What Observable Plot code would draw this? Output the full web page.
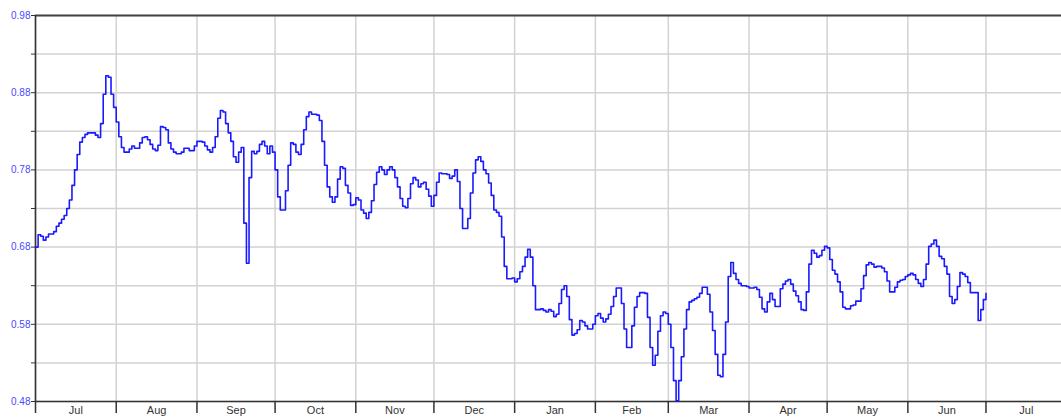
<!DOCTYPE html>
<html>
<head>
<meta charset="utf-8">
<script src="https://cdn.jsdelivr.net/npm/d3@7"></script>
<script src="https://cdn.jsdelivr.net/npm/@observablehq/plot@0.6"></script>
<style>
  html, body { margin: 0; padding: 0; background: #fff; }
  #chart svg { display: block; }
</style>
</head>
<body>
<div id="chart"></div>
<script>
// Series start date; each reading is (days after start, value)
const seriesStart = "2018-07-01";
const days = [
  0,1,2,3,4,5,7,8,9,10,11,12,13,14,15,16,17,18,19,20,23,24,25,26,27,28,29,30,31,32,33,34,36,37,38,40,41,42,43,44,45,46,47,48,49,50,51,52,53,54,56,57,59,61,62,64,65,66,67,68,69,70,71,72,73,74,75,76,77,78,79,80,81,82,83,84,85,86,87,88,89,90,91,92,93,94,96,97,98,99,100,101,102,103,104,105,106,108,109,110,111,112,113,114,115,116,117,118,119,120,121,122,123,124,125,126,127,128,129,130,131,132,133,134,135,136,137,138,139,140,141,142,143,144,145,146,147,148,149,150,151,152,153,154,155,156,158,159,160,161,162,163,164,166,167,168,169,170,171,172,173,174,175,176,177,178,179,180,181,183,184,185,186,187,188,189,190,191,192,194,195,196,197,198,199,200,201,202,203,204,205,206,207,208,209,210,211,212,214,215,216,217,218,219,220,221,222,223,225,226,227,229,230,231,232,234,235,236,237,238,239,240,241,242,243,244,245,246,247,248,249,250,251,252,253,254,255,256,258,259,260,261,262,263,264,265,266,267,268,269,270,271,273,274,276,277,278,279,280,281,282,283,284,286,287,288,289,290,291,292,293,294,295,296,297,298,299,300,301,302,303,304,305,306,307,308,309,310,311,313,314,315,317,318,319,320,321,322,323,325,326,327,328,330,331,332,333,334,335,336,337,338,339,340,341,342,343,344,345,346,347,348,349,350,351,352,353,354,355,356,357,358,359,362,363,364,365
];
const values = [
  0.680,0.696,0.694,0.689,0.693,0.697,0.700,0.707,0.711,0.716,0.721,0.730,0.741,0.760,0.780,0.800,0.816,0.822,0.826,0.828,0.825,0.822,0.840,0.878,0.902,0.900,0.878,0.861,0.842,0.823,0.809,0.803,0.807,0.811,0.808,0.815,0.822,0.823,0.819,0.813,0.807,0.805,0.812,0.836,0.835,0.832,0.815,0.807,0.803,0.801,0.803,0.808,0.805,0.811,0.817,0.816,0.811,0.806,0.803,0.809,0.823,0.847,0.857,0.855,0.840,0.828,0.817,0.797,0.790,0.803,0.809,0.711,0.659,0.770,0.804,0.801,0.804,0.813,0.817,0.811,0.801,0.811,0.803,0.780,0.745,0.728,0.753,0.786,0.815,0.813,0.803,0.800,0.813,0.832,0.849,0.855,0.852,0.851,0.844,0.817,0.786,0.758,0.745,0.738,0.745,0.768,0.784,0.782,0.760,0.750,0.734,0.735,0.744,0.741,0.728,0.724,0.717,0.725,0.740,0.761,0.777,0.784,0.780,0.774,0.780,0.784,0.780,0.770,0.758,0.743,0.733,0.731,0.743,0.762,0.770,0.767,0.758,0.762,0.764,0.755,0.746,0.733,0.747,0.764,0.776,0.775,0.774,0.769,0.772,0.780,0.765,0.730,0.704,0.717,0.750,0.776,0.793,0.797,0.791,0.780,0.775,0.763,0.747,0.728,0.725,0.720,0.693,0.655,0.639,0.640,0.635,0.639,0.648,0.655,0.667,0.677,0.667,0.630,0.599,0.600,0.598,0.596,0.599,0.597,0.590,0.593,0.607,0.625,0.630,0.616,0.586,0.566,0.568,0.573,0.585,0.583,0.578,0.574,0.580,0.591,0.594,0.588,0.583,0.587,0.593,0.603,0.616,0.627,0.607,0.574,0.550,0.578,0.602,0.616,0.621,0.620,0.589,0.550,0.527,0.540,0.571,0.591,0.596,0.594,0.580,0.550,0.507,0.481,0.507,0.538,0.574,0.599,0.609,0.611,0.613,0.615,0.620,0.628,0.619,0.596,0.572,0.541,0.514,0.512,0.541,0.583,0.642,0.660,0.646,0.638,0.633,0.630,0.629,0.627,0.628,0.625,0.615,0.600,0.596,0.609,0.620,0.612,0.603,0.626,0.632,0.636,0.638,0.632,0.623,0.617,0.609,0.599,0.598,0.622,0.658,0.676,0.672,0.667,0.669,0.676,0.681,0.679,0.664,0.650,0.645,0.635,0.622,0.602,0.600,0.604,0.605,0.610,0.626,0.643,0.657,0.660,0.658,0.654,0.655,0.653,0.648,0.636,0.622,0.628,0.635,0.637,0.638,0.642,0.644,0.646,0.644,0.638,0.633,0.629,0.638,0.658,0.681,0.684,0.689,0.681,0.668,0.665,0.655,0.645,0.616,0.607,0.612,0.629,0.647,0.645,0.642,0.634,0.621,0.585,0.599,0.612,0.620,0.620
];
const yMajorTicks = [0.48, 0.58, 0.68, 0.78, 0.88, 0.98];
const yAllTicks = [0.48, 0.53, 0.58, 0.63, 0.68, 0.73, 0.78, 0.83, 0.88, 0.93, 0.98];
const xDomain = ["2018-07-01", "2019-07-30"];
const monthTickRange = ["2018-07-01", "2019-08-01"];

const start = new Date(seriesStart + "T00:00:00Z");
const data = days.map((d, i) => ({date: d3.utcDay.offset(start, d), value: values[i]}));

const monthStarts = d3.utcMonth.range(new Date(monthTickRange[0] + "T00:00:00Z"), new Date(monthTickRange[1] + "T00:00:00Z"));
const monthMids = monthStarts.map(m => new Date((+m + +d3.utcMonth.offset(m, 1)) / 2));

const chart = Plot.plot({
  width: 1061,
  height: 418,
  marginTop: 15,
  marginBottom: 17,
  marginLeft: 35,
  marginRight: 0,
  style: {fontFamily: "'Liberation Sans', Arial, sans-serif", fontSize: "11px", background: "#fff"},
  x: {type: "utc", domain: xDomain.map(s => new Date(s + "T00:00:00Z")), label: null},
  y: {domain: [0.48, 0.98], label: null},
  marks: [
    Plot.gridX(monthStarts, {stroke: "#d2d2d2", strokeOpacity: 1, strokeWidth: 1.5}),
    Plot.gridY(yAllTicks, {stroke: "#d2d2d2", strokeOpacity: 1, strokeWidth: 1.5}),
    Plot.axisY({ticks: yAllTicks, tickSize: 4, tickFormat: () => "", color: "#333", label: null}),
    Plot.axisY({ticks: yMajorTicks, tickSize: 0, tickPadding: 5, tickFormat: d3.format(".2f"), color: "#4a4aff", fontSize: 10, label: null}),
    Plot.axisX({ticks: monthStarts, tickSize: 12, tickFormat: () => "", color: "#333", strokeWidth: 1.5, label: null}),
    Plot.axisX({ticks: monthMids, tickSize: 0, tickPadding: 5, tickFormat: d3.utcFormat("%b"), color: "#333", fontSize: 11, label: null}),
    Plot.ruleY([0.48], {stroke: "#333", strokeWidth: 1.6}),
    Plot.ruleY([0.98], {stroke: "#444", strokeWidth: 2}),
    Plot.ruleX([xDomain[0]].map(s => new Date(s + "T00:00:00Z")), {stroke: "#333", strokeWidth: 1.6}),
    Plot.line(data, {x: "date", y: "value", curve: "step-after", stroke: "#1a1aff", strokeWidth: 1.6})
  ]
});
document.getElementById("chart").appendChild(chart);
</script>
</body>
</html>
